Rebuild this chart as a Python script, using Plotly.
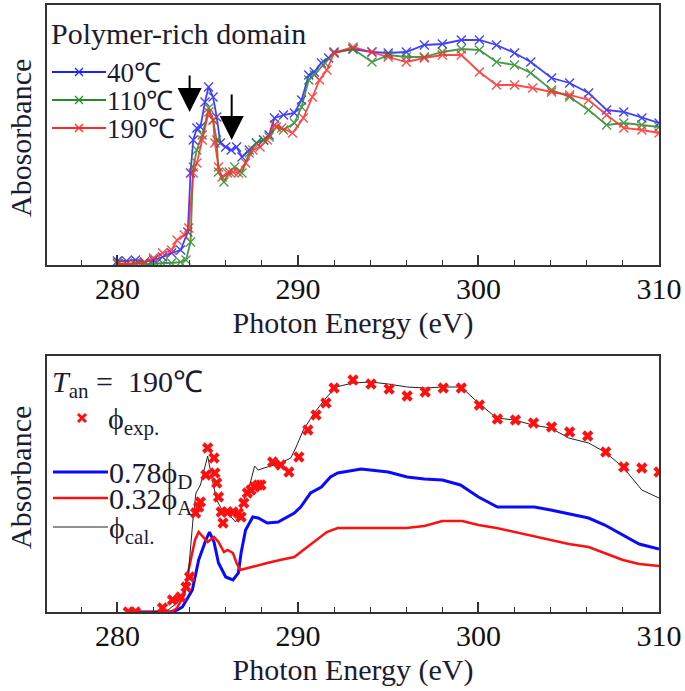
import plotly.graph_objects as go

# ---------------- data (top panel) ----------------
e40 = [280.0, 280.5, 281.0, 281.5, 282.0, 282.5, 283.0, 283.5, 283.9, 284.05, 284.2, 284.4, 284.6, 284.85,
       285.05, 285.3, 285.5, 285.7, 286.0, 286.3, 286.6, 286.9, 287.3, 287.7, 288.1, 288.4, 288.7, 289.2,
       289.8, 290.2, 290.6, 290.9, 291.3, 291.7, 292.0, 293.05, 294.1, 295.0, 296.0, 297.0, 298.0, 299.05,
       300.05, 301.0, 302.0, 302.9, 304.05, 305.05, 306.1, 307.1, 308.05, 309.05, 310.0]
a40 = [0.02, 0.02, 0.025, 0.015, 0.025, 0.04, 0.06, 0.075, 0.165, 0.46, 0.625, 0.685, 0.69, 0.815,
       0.89, 0.84, 0.74, 0.61, 0.59, 0.575, 0.59, 0.54, 0.575, 0.61, 0.625, 0.65, 0.735, 0.75,
       0.76, 0.825, 0.95, 0.965, 1.01, 1.035, 1.065, 1.08, 1.065, 1.06, 1.065, 1.10, 1.105, 1.125,
       1.125, 1.10, 1.06, 1.015, 0.935, 0.91, 0.86, 0.775, 0.765, 0.735, 0.71]

e110 = [280.0, 280.5, 281.0, 281.5, 282.0, 282.5, 283.0, 283.5, 283.8, 284.05, 284.2, 284.4, 284.7,
        285.06, 285.3, 285.5, 285.6, 285.9, 286.2, 286.5, 286.9, 287.3, 287.7, 288.1, 288.4, 288.8,
        289.2, 289.8, 290.2, 290.6, 290.9, 291.5, 292.0, 293.05, 294.1, 295.0, 296.0, 297.0, 298.0,
        299.05, 300.05, 301.0, 302.0, 302.9, 304.05, 305.05, 306.1, 307.1, 308.05, 309.05, 310.0]
a110 = [0.01, 0.005, 0.01, 0.005, 0.005, 0.01, 0.01, 0.015, 0.025, 0.115, 0.49, 0.575, 0.65,
        0.785, 0.725, 0.625, 0.465, 0.415, 0.465, 0.49, 0.46, 0.56, 0.61, 0.625, 0.64, 0.69,
        0.675, 0.71, 0.79, 0.925, 0.95, 1.01, 1.06, 1.08, 1.015, 1.05, 1.04, 1.04, 1.065,
        1.08, 1.075, 1.015, 1.0, 0.96, 0.875, 0.84, 0.775, 0.70, 0.71, 0.70, 0.69]

e190 = [280.0, 280.5, 281.0, 281.5, 282.0, 282.5, 283.0, 283.3, 283.7, 283.95, 284.2, 284.4, 284.7,
        285.06, 285.3, 285.4, 285.6, 285.8, 286.1, 286.4, 286.7, 287.1, 287.5, 287.9, 288.3, 288.7,
        289.1, 289.7, 290.3, 290.8, 291.2, 291.6, 292.0, 293.05, 294.1, 295.0, 296.0, 297.0, 298.0,
        299.05, 300.05, 301.0, 302.0, 303.0, 304.05, 305.05, 306.1, 307.1, 308.05, 309.05, 310.0]
a190 = [0.005, 0.005, 0.005, 0.015, 0.035, 0.06, 0.075, 0.125, 0.15, 0.185, 0.46, 0.51, 0.625,
        0.765, 0.725, 0.61, 0.49, 0.44, 0.46, 0.465, 0.46, 0.51, 0.575, 0.59, 0.625, 0.70,
        0.685, 0.66, 0.735, 0.84, 0.925, 0.975, 1.06, 1.09, 1.065, 1.04, 1.015, 1.035, 1.05,
        1.05, 0.965, 0.90, 0.90, 0.885, 0.865, 0.85, 0.825, 0.75, 0.685, 0.675, 0.66]

top_names = ["40\u2103", "110\u2103", "190\u2103"]
top_colors = ["#1f1fff", "#2a8a2a", "#ff2a2a"]

# ---------------- data (bottom panel) ----------------
e_exp = [280.6, 281.0, 282.5, 283.05, 283.5, 283.8, 284.0, 284.33, 284.5, 284.6, 284.9, 285.0, 285.35,
         285.4, 285.5, 285.6, 285.75, 285.85, 286.1, 286.4, 286.7, 286.85, 287.0, 287.2, 287.4, 287.6,
         287.8, 287.95, 288.6, 289.05, 289.5, 290.05, 290.55, 291.0, 291.55, 292.0, 293.05, 294.05,
         295.05, 296.05, 297.05, 298.05, 299.05, 300.05, 301.05, 302.05, 303.05, 304.05, 305.05,
         306.05, 307.05, 308.05, 309.05, 310.0]
a_exp = [0.0, 0.0, 0.02, 0.06, 0.075, 0.125, 0.175, 0.495, 0.525, 0.55, 0.685, 0.82, 0.77,
         0.695, 0.645, 0.575, 0.50, 0.445, 0.50, 0.50, 0.495, 0.475, 0.545, 0.595, 0.61, 0.625,
         0.635, 0.635, 0.75, 0.735, 0.70, 0.775, 0.91, 0.985, 1.045, 1.12, 1.16, 1.14,
         1.115, 1.08, 1.10, 1.12, 1.12, 1.035, 0.965, 0.96, 0.945, 0.925, 0.90,
         0.88, 0.80, 0.725, 0.72, 0.70]

e_cal = [280.5, 282.0, 282.8, 283.3, 283.7, 283.96, 284.2, 284.35, 284.6, 284.8, 285.0, 285.2, 285.5,
         285.8, 286.2, 286.55, 286.8, 287.0, 287.3, 287.6, 287.8, 288.3, 289.05, 289.6, 289.9, 290.3,
         290.9, 291.6, 292.1, 293.05, 294.05, 295.0, 296.05, 297.05, 298.0, 299.05, 300.0, 301.0,
         302.0, 303.0, 304.0, 305.0, 306.1, 307.0, 308.0, 309.05, 310.0]
a_cal = [0.0, 0.0, 0.01, 0.045, 0.095, 0.225, 0.475, 0.595, 0.635, 0.71, 0.78, 0.685, 0.56,
         0.51, 0.485, 0.45, 0.50, 0.56, 0.625, 0.73, 0.71, 0.725, 0.745, 0.77, 0.825, 0.91,
         0.995, 1.075, 1.125, 1.145, 1.15, 1.14, 1.125, 1.12, 1.125, 1.125, 1.045, 0.97,
         0.96, 0.935, 0.92, 0.87, 0.845, 0.80, 0.725, 0.61, 0.57]

e_D = [280.5, 282.9, 283.3, 283.6, 284.15, 284.5, 284.9, 285.1, 285.35, 285.6, 286.0, 286.4, 286.7,
       286.85, 287.1, 287.5, 287.8, 288.3, 288.9, 289.45, 289.8, 290.15, 290.7, 291.3, 291.8, 292.2,
       293.05, 293.5, 295.0, 296.05, 297.0, 298.0, 299.0, 300.0, 301.05, 302.0, 303.1, 304.0, 305.0,
       306.1, 307.0, 308.0, 308.9, 310.0]
a_D = [0.0, 0.0, 0.01, 0.025, 0.11, 0.26, 0.36, 0.40, 0.35, 0.245, 0.175, 0.16, 0.195,
       0.295, 0.41, 0.475, 0.47, 0.445, 0.45, 0.475, 0.495, 0.525, 0.595, 0.625, 0.675, 0.695,
       0.71, 0.715, 0.70, 0.675, 0.665, 0.66, 0.635, 0.575, 0.525, 0.525, 0.525, 0.51, 0.49,
       0.47, 0.435, 0.385, 0.34, 0.315]

e_A = [280.5, 283.0, 283.3, 283.7, 284.0, 284.3, 284.5, 284.65, 285.0, 285.35, 285.6, 285.9, 286.1,
       286.4, 286.6, 286.8, 287.2, 287.8, 288.3, 289.0, 289.8, 290.3, 290.9, 291.6, 292.2, 293.05,
       294.0, 296.0, 297.0, 298.0, 299.1, 300.0, 301.0, 302.0, 303.1, 304.0, 305.0, 306.1, 307.0,
       308.0, 308.9, 310.0]
a_A = [0.0, 0.0, 0.02, 0.085, 0.235, 0.36, 0.40, 0.385, 0.35, 0.375, 0.35, 0.30, 0.31,
       0.295, 0.245, 0.21, 0.22, 0.235, 0.245, 0.26, 0.275, 0.31, 0.35, 0.40, 0.42, 0.42,
       0.42, 0.42, 0.43, 0.455, 0.455, 0.435, 0.42, 0.40, 0.38, 0.36, 0.34, 0.325, 0.295,
       0.26, 0.24, 0.23]

x_ticks = [280, 290, 300, 310]
x_range = [276.1, 310]

# ---------------- figure ----------------
FONT = "Liberation Serif, Times New Roman, serif"
TXT = "#1c1c30"
FS = 30
L, R, T, B = 47, 659, 5, 612
W, H = R - L, B - T


def pxx(x):
    return (x - L) / W


def pxy(y):
    return (B - y) / H


fig = go.Figure()

for e, a, nm, c in zip([e40, e110, e190], [a40, a110, a190], top_names, top_colors):
    fig.add_trace(go.Scatter(
        x=e, y=a, name=nm, mode="lines+markers", xaxis="x", yaxis="y",
        line=dict(color=c, width=1.8),
        marker=dict(symbol="x-thin", size=9, line=dict(color=c, width=1.3)),
        opacity=0.85, showlegend=False))

fig.add_trace(go.Scatter(x=e_D, y=a_D, mode="lines", xaxis="x2", yaxis="y2",
                         line=dict(color="#0a0aff", width=3), showlegend=False))
fig.add_trace(go.Scatter(x=e_A, y=a_A, mode="lines", xaxis="x2", yaxis="y2",
                         line=dict(color="#ff1010", width=2.5), showlegend=False))
fig.add_trace(go.Scatter(x=e_cal, y=a_cal, mode="lines", xaxis="x2", yaxis="y2",
                         line=dict(color="#222222", width=1), showlegend=False))
fig.add_trace(go.Scatter(x=e_exp, y=a_exp, mode="markers", xaxis="x2", yaxis="y2",
                         marker=dict(symbol="x", size=10, color="#ff1010"), showlegend=False))

xcommon = dict(range=x_range, tickmode="array", tickvals=x_ticks,
               ticktext=[str(v) for v in x_ticks],
               ticks="inside", ticklen=10, tickwidth=1.5, tickcolor="#333",
               minor=dict(tickmode="linear", tick0=276, dtick=2, ticks="inside", ticklen=5,
                          tickwidth=1.2, tickcolor="#333"),
               showline=True, linecolor="#333", linewidth=1.6, mirror=True,
               showgrid=False, zeroline=False, automargin=False,
               ticklabelstandoff=-4,
               tickfont=dict(family=FONT, size=FS, color="#111"),
               title=dict(text="Photon Energy (eV)", font=dict(family=FONT, size=FS, color=TXT),
                          standoff=8))
ycommon = dict(showticklabels=False, ticks="", showline=True, linecolor="#333",
               linewidth=1.6, mirror=True, showgrid=False, zeroline=False)

fig.update_layout(
    width=685, height=691,
    margin=dict(l=L, r=685 - R, t=T, b=691 - B),
    paper_bgcolor="white", plot_bgcolor="white",
    xaxis=dict(domain=[0, 1], anchor="y", **xcommon),
    yaxis=dict(domain=[pxy(265), 1], range=[0, 1.3], anchor="x", **ycommon),
    xaxis2=dict(domain=[0, 1], anchor="y2", **xcommon),
    yaxis2=dict(domain=[0, pxy(356)], range=[0, 1.28], anchor="x2", **ycommon),
    font=dict(family=FONT, color=TXT),
)

ann = []
shapes = []

# y-axis titles
ann.append(dict(text="Abosorbance", x=pxx(20), y=pxy(138), xref="paper", yref="paper",
                xanchor="center", yanchor="middle",
                showarrow=False, textangle=-90, font=dict(family=FONT, size=FS, color=TXT)))
ann.append(dict(text="Absorbance", x=pxx(20), y=pxy(478), xref="paper", yref="paper",
                xanchor="center", yanchor="middle",
                showarrow=False, textangle=-90, font=dict(family=FONT, size=FS, color=TXT)))

# top panel title + legend
ann.append(dict(text="Polymer-rich domain", x=pxx(49), y=pxy(34), xref="paper", yref="paper",
                xanchor="left", yanchor="middle", showarrow=False,
                font=dict(family=FONT, size=FS, color=TXT)))
for i, (nm, c) in enumerate(zip(top_names, top_colors)):
    yy = [72, 100, 128][i]
    shapes.append(dict(type="line", xref="paper", yref="paper", x0=pxx(52), x1=pxx(106),
                       y0=pxy(yy), y1=pxy(yy), line=dict(color=c, width=1.8)))
    for d in (1, -1):
        shapes.append(dict(type="line", xref="paper", yref="paper", x0=pxx(75), x1=pxx(83),
                           y0=pxy(yy - 4 * d), y1=pxy(yy + 4 * d), line=dict(color=c, width=1.3)))
    ann.append(dict(text=nm, x=pxx(105), y=pxy(yy + 1), xref="paper", yref="paper",
                    xanchor="left", yanchor="middle", showarrow=False,
                    font=dict(family=FONT, size=27, color=TXT)))

# arrows
ann.append(dict(x=284.0, y=0.765, xref="x", yref="y", ax=0, ay=-38, showarrow=True,
                arrowhead=2, arrowsize=2.4, arrowwidth=2, arrowcolor="#000", text=""))
ann.append(dict(x=286.33, y=0.625, xref="x", yref="y", ax=0, ay=-47, showarrow=True,
                arrowhead=2, arrowsize=2.4, arrowwidth=2, arrowcolor="#000", text=""))

# bottom legend
ann.append(dict(text="<i>T</i><sub>an</sub> =  190\u2103", x=pxx(50), y=pxy(384),
                xref="paper", yref="paper", xanchor="left", yanchor="middle", showarrow=False,
                font=dict(family=FONT, size=FS, color=TXT)))
for d in (1, -1):
    shapes.append(dict(type="line", xref="paper", yref="paper", x0=pxx(78), x1=pxx(86),
                       y0=pxy(418 - 4 * d), y1=pxy(418 + 4 * d), line=dict(color="#ff1010", width=3)))
ann.append(dict(text="\u03d5<sub>exp.</sub>", x=pxx(106), y=pxy(421), xref="paper", yref="paper",
                xanchor="left", yanchor="middle", showarrow=False,
                font=dict(family=FONT, size=FS, color=TXT)))
for yy, c, w, t in [(472, "#0a0aff", 3, "0.78\u03d5<sub>D</sub>"),
                    (498, "#ff1010", 2.5, "0.32\u03d5<sub>A</sub>"),
                    (527, "#222222", 1, "\u03d5<sub>cal.</sub>")]:
    shapes.append(dict(type="line", xref="paper", yref="paper", x0=pxx(53), x1=pxx(108),
                       y0=pxy(yy), y1=pxy(yy), line=dict(color=c, width=w)))
    ann.append(dict(text=t, x=pxx(107), y=pxy(yy + 3), xref="paper", yref="paper",
                    xanchor="left", yanchor="middle", showarrow=False,
                    font=dict(family=FONT, size=FS, color=TXT)))

fig.update_layout(annotations=ann, shapes=shapes)
fig.write_html("out.html", config={"displayModeBar": False},
               post_script="document.body.style.margin='0px';")
